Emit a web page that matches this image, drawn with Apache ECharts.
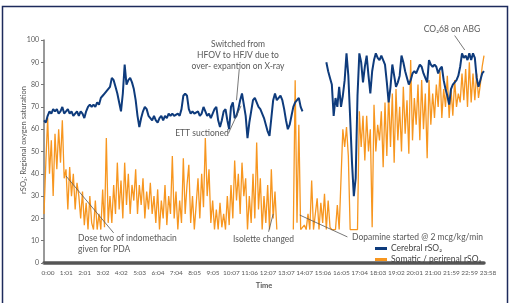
<!DOCTYPE html>
<html>
<head>
<meta charset="utf-8">
<script src="https://cdn.jsdelivr.net/npm/echarts@6/dist/echarts.min.js"></script>
<style>
  html, body { margin: 0; padding: 0; background: #fff; }
  #chart { width: 513px; height: 303px; }
</style>
</head>
<body>
<div id="chart"></div>
<script>
// tick labels on the time axis (one every 10 samples)
const timeTicks = ['0:00', '1:01', '2:01', '3:02', '4:02', '5:03', '6:04', '7:04', '8:05', '9:05',
  '10:07', '11:06', '12:07', '13:07', '14:07', '15:06', '16:05', '17:04', '18:03', '19:02',
  '20:01', '21:00', '21:59', '22:59', '23:58'];

// Cerebral rSO2 (null = no signal)
const cerebral = [
  64, 63, 66, 68, 67, 69, 68, 69, 67, 68,
  70, 67, 68, 69, 67, 68, 66, 67, 68, 66,
  68, 67, 65, 68, 70, 71, 70, 71, 70, 72,
  71, 74, 75, 76, 77, 78, 79, 83, 82, 79,
  76, 72, 68, 76, 89, 80, 82, 83, 81, 78,
  73, 66, 61, 65, 68, 70, 69, 66, 65, 64,
  66, 64, 63, 65, 66, 64, 66, 65, 67, 66,
  67, 66, 66, 67, 66, 69, 75, 76, 75, 69,
  67, 68, 67, 67, 68, 66, 67, 70, 68, 66,
  67, 65, 67, 69, 70, 64, 61, 64, 68, 69,
  64, 60, 70, 72, 65, 66, 69, 73, 76, 71,
  66, 56, 63, 68, 73, 74, 72, 70, 69, 67,
  65, 62, 59, 57, 65, 73, 76, 73, 74, 75,
  73, 69, 64, 60, 62, 66, 70, 72, 73, 74,
  70, 68, null, null, null, null, null, null, null, null,
  null, null, null, null, 90, 86, 83, 80, 66, 74,
  70, 79, 70, 75, 82, 94, 84, 65, 45, 30,
  38, 75, 94, 90, 81, 88, 93, 84, 76, 86,
  91, 94, 92, 91, 93, 91, 89, 81, 72, 79,
  89, 84, 79, 81, 84, 93, 90, 86, 83, 80,
  82, 85, 86, 85, 87, 89, 88, 85, 83, 81,
  91, 89, 88, 89, 88, 85, 87, 88, 82, 78,
  75, 71, 78, 80, 81, 82, 84, 88, 94, 92,
  93, 91, 94, 91, 94, 92, 83, 79, 82, 85,
  86
];

// Somatic / perirenal rSO2
const somatic = [
  22, 45, 65, 40, 55, 30, 58, 42, 60, 45,
  64, 38, 42, 24, 43, 30, 40, 24, 36, 30,
  20, 32, 17, 27, 15, 30, 18, 15, 28, 15,
  22, 15, 33, 16, 56, 18, 30, 18, 35, 22,
  45, 24, 37, 20, 45, 26, 40, 22, 35, 28,
  42, 22, 35, 26, 38, 20, 32, 24, 36, 22,
  30, 18, 33, 15, 28, 20, 35, 17, 30, 22,
  48, 20, 32, 15, 28, 18, 47, 22, 35, 44,
  18, 30, 15, 26, 38, 20, 40, 25, 56, 30,
  42, 18, 28, 15, 24, 15, 27, 16, 22, 15,
  30, 17, 35, 20, 46, 28, 40, 22, 45, 30,
  38, 15, 30, 18, 40, 20, 54, 24, 38, 15,
  30, 18, 35, 15, 42, 20, 32, 15, null, null,
  null, null, null, null, null, null, 15, 82, 18, 62,
  15, 15, 17, 15, 22, 15, 37, 15, 22, 29,
  15, 27, 18, 31, 15, 28, 16, 15, 15, 15,
  26, 15, 15, 60, 52, 61, 48, 15, 15, 15,
  15, 15, 68, 52, 66, 46, 66, 50, 60, 16,
  71, 50, 62, 55, 68, 43, 72, 48, 76, 52,
  76, 45, 78, 55, 70, 50, 79, 58, 73, 49,
  91, 55, 74, 62, 80, 55, 82, 60, 76, 47,
  82, 62, 76, 65, 80, 70, 86, 65, 78, 70,
  84, 65, 78, 66, 82, 70, 76, 72, 85, 73,
  87, 70, 90, 72, 85, 73, 85, 74, 80, 88,
  93
];

const FONT = 'Lato, "Open Sans", sans-serif';
const TXT = '#595959';
const BLUE = '#0e3b7c';
const ORANGE = '#f7961f';

const toPairs = arr => arr.map((v, i) => [i, v == null ? '-' : v]);

const chart = echarts.init(document.getElementById('chart'), null, { renderer: 'canvas' });

chart.setOption({
  animation: false,
  grid: { left: 44, right: 29, top: 40, bottom: 40, containLabel: false },
  legend: {
    orient: 'vertical',
    left: 370,
    top: 239,
    itemGap: 2,
    itemWidth: 12,
    itemHeight: 3,
    icon: 'rect',
    textStyle: { fontSize: 8.5, color: '#444', fontFamily: FONT, padding: [0, 0, 0, -1] },
    data: ['Cerebral rSO₂', 'Somatic / perirenal rSO₂'],
  },
  xAxis: {
    type: 'value',
    min: 0,
    max: (timeTicks.length - 1) * 10,
    interval: 10,
    splitLine: { show: false },
    axisTick: { show: false },
    axisLine: { lineStyle: { color: '#555', width: 3.5 } },
    axisLabel: {
      fontSize: 6.5, color: TXT, fontFamily: FONT, margin: 6,
      padding: [0, 0, 0, 8],
      formatter: v => timeTicks[Math.round(v / 10)] || '',
    },
    name: 'Time',
    nameLocation: 'middle',
    nameGap: 19,
    nameTextStyle: { fontSize: 7.5, color: TXT, fontFamily: FONT, fontWeight: 'bold' },
  },
  yAxis: {
    type: 'value',
    min: 0,
    max: 100,
    interval: 10,
    splitLine: { show: false },
    axisLine: { show: true, lineStyle: { color: '#777', width: 1.5 } },
    axisTick: { show: true, length: 3, lineStyle: { color: '#777' } },
    axisLabel: { fontSize: 7, color: TXT, fontFamily: FONT, margin: 5 },
  },
  series: [
    {
      name: 'Somatic / perirenal rSO₂',
      type: 'line',
      data: toPairs(somatic),
      showSymbol: false,
      symbol: 'none',
      color: ORANGE,
      lineStyle: { width: 1.3, color: ORANGE },
      z: 2,
    },
    {
      name: 'Cerebral rSO₂',
      type: 'line',
      data: toPairs(cerebral),
      showSymbol: false,
      symbol: 'none',
      color: BLUE,
      lineStyle: { width: 2, color: BLUE },
      z: 3,
    },
  ],
});

// annotations: leader lines anchored in data space, text as labels
const pt = (x, y) => chart.convertToPixel({ gridIndex: 0 }, [x, y]);
const leader = (a, b) => {
  const p = pt(a[0], a[1]);
  const q = pt(b[0], b[1]);
  return {
    type: 'line',
    shape: { x1: p[0], y1: p[1], x2: q[0], y2: q[1] },
    style: { stroke: '#555', lineWidth: 0.8 },
    z: 10,
  };
};
const label = (text, x, y, align) => ({
  type: 'text',
  x, y,
  style: {
    text, fill: TXT, font: '8.5px ' + FONT,
    align: align || 'center', verticalAlign: 'middle', lineHeight: 11,
  },
  z: 11,
});

chart.setOption({
  graphic: [
    { type: 'rect', shape: { x: 2.5, y: 6.5, width: 505, height: 300 },
      style: { fill: 'none', stroke: '#1d2b5c', lineWidth: 1.5 }, silent: true },
    { type: 'text', x: 24, y: 140, rotation: Math.PI / 2,
      style: { text: 'rSO₂: Regional oxygen saturation', fill: TXT, font: '7.5px ' + FONT,
        align: 'center', verticalAlign: 'middle' } },
    label('Switched from\nHFOV to HFJV due to\nover- expantion on X-ray', 238, 55),
    leader([106.5, 87], [105, 73]),
    label('ETT suctioned', 202, 133),
    leader([100.5, 58], [107.5, 70.5]),
    label('Dose two of indomethacin\ngiven for PDA', 78, 244, 'left'),
    leader([38, 13.5], [12, 39]),
    label('Isolette changed', 233, 239, 'left'),
    leader([122.5, 14], [125, 22]),
    label('Dopamine started @ 2 mcg/kg/min', 352, 237, 'left'),
    leader([165.5, 11.7], [139.5, 21.5]),
    label('CO₂68 on ABG', 452, 29),
    leader([224, 102], [229.5, 95.5]),
  ],
});
</script>
</body>
</html>
